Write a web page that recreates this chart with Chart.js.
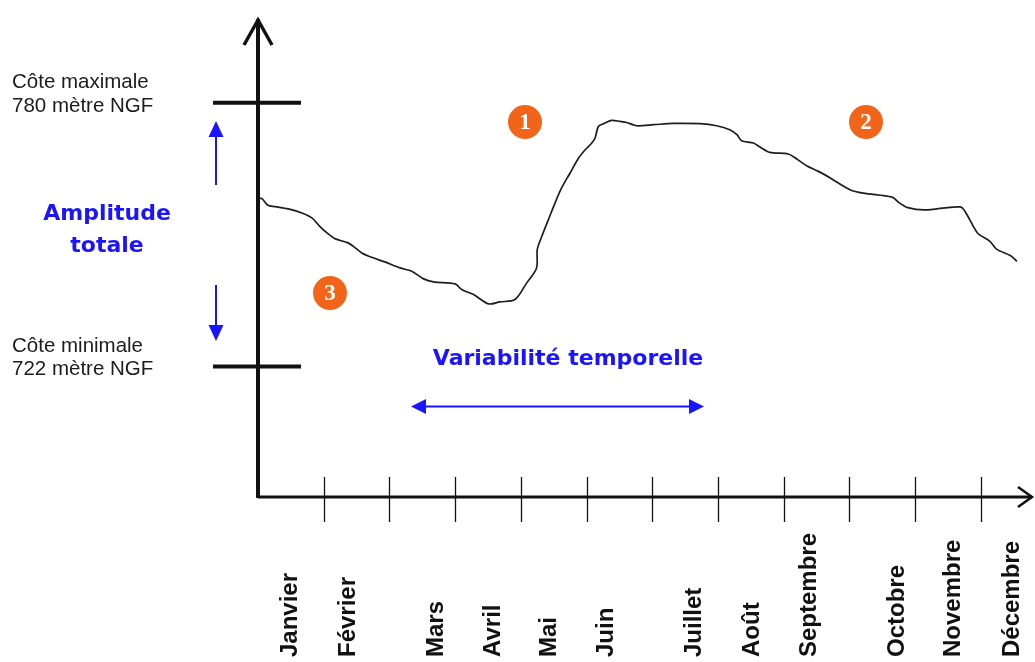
<!DOCTYPE html>
<html>
<head>
<meta charset="utf-8">
<script src="https://cdn.jsdelivr.net/npm/chart.js@4"></script>
<style>
  body { margin: 0; background: #fff; }
  #wrap { width: 1035px; height: 662px; position: relative; }
</style>
</head>
<body>
<div id="wrap"><canvas id="c"></canvas></div>
<script>
// Cote du plan d'eau sur l'annee (schema) - x en mois depuis le 1er janvier, y en metres NGF

var months = ['Janvier', 'Février', 'Mars', 'Avril', 'Mai', 'Juin',
  'Juillet', 'Août', 'Septembre', 'Octobre', 'Novembre', 'Décembre'];
// where each month name sits along the time axis
var monthLabelAt = [0.47, 1.34, 2.69, 3.56, 4.41, 5.28, 6.62, 7.49, 8.36, 9.70, 10.56, 11.45];
var monthTicks = [1, 2, 3, 4, 5, 6, 7, 8, 9, 10, 11];

var coteMax = 780;
var coteMin = 722;

var levelX = [0.00, 0.06, 0.15, 0.26, 0.46, 0.67, 0.82, 0.94, 1.05, 1.17,
  1.37, 1.45, 1.58, 1.73, 1.93, 2.16, 2.34, 2.52, 2.67, 3.00,
  3.10, 3.28, 3.51, 3.68, 3.91, 4.09, 4.24, 4.25, 4.32, 4.42,
  4.50, 4.62, 4.75, 4.88, 4.98, 5.08, 5.13, 5.18, 5.26, 5.38,
  5.51, 5.61, 5.76, 6.02, 6.32, 6.73, 6.98, 7.18, 7.29, 7.36,
  7.54, 7.64, 7.79, 8.07, 8.20, 8.35, 8.53, 8.71, 9.01, 9.21,
  9.65, 9.75, 9.89, 10.15, 10.69, 10.79, 10.95, 11.14, 11.24, 11.45,
  11.55];
var levelY = [759.06, 758.91, 757.44, 757.15, 756.65, 755.77, 754.67, 752.82, 751.37, 750.12,
  749.18, 748.43, 746.98, 746.01, 745.00, 743.68, 742.94, 741.27, 740.61, 740.17,
  738.92, 737.82, 735.77, 736.21, 736.72, 740.39, 743.68, 747.70, 750.63, 754.29,
  757.22, 761.26, 764.56, 767.85, 769.67, 771.15, 772.24, 774.79, 775.39, 776.11,
  775.89, 775.67, 774.95, 775.17, 775.45, 775.39, 774.95, 774.07, 772.97, 771.65,
  771.15, 770.27, 769.08, 768.73, 767.63, 766.16, 764.91, 763.46, 760.89, 760.12,
  759.24, 758.10, 756.93, 756.43, 757.09, 755.39, 751.37, 749.53, 747.81, 746.39,
  745.13];

var points = levelX.map(function(x, i) { return { x: x, y: levelY[i] }; });

var BLUE = '#1a14ff';
var ORANGE = '#f26419';
var INK = '#111';

function arrowHead(ctx, tipX, tipY, dx, dy, len, half) {
  // filled triangle pointing in direction (dx,dy)
  ctx.beginPath();
  ctx.moveTo(tipX, tipY);
  ctx.lineTo(tipX - dx * len - dy * half, tipY - dy * len + dx * half);
  ctx.lineTo(tipX - dx * len + dy * half, tipY - dy * len - dx * half);
  ctx.closePath();
  ctx.fill();
}

function badge(ctx, x, y, txt) {
  ctx.fillStyle = ORANGE;
  ctx.beginPath();
  ctx.arc(x, y, 17, 0, Math.PI * 2);
  ctx.fill();
  ctx.fillStyle = '#fff';
  ctx.font = 'bold 23px "Liberation Serif"';
  ctx.textAlign = 'center';
  ctx.textBaseline = 'middle';
  ctx.fillText(txt, x, y + 1);
}

var schema = {
  id: 'schema',
  afterDraw: function(chart) {
    var ctx = chart.ctx;
    var xs = chart.scales.x, ys = chart.scales.y;
    var x0 = xs.getPixelForValue(0);
    var yBase = ys.getPixelForValue(ys.min);
    var top = chart.chartArea.top;
    var right = chart.chartArea.right;
    ctx.save();
    ctx.strokeStyle = INK;
    ctx.lineCap = 'butt';

    // y axis + open arrow
    ctx.lineWidth = 4;
    ctx.beginPath();
    ctx.moveTo(x0, yBase + 1);
    ctx.lineTo(x0, top - 1);
    ctx.stroke();
    ctx.lineWidth = 3.5;
    ctx.lineJoin = 'miter';
    ctx.beginPath();
    ctx.moveTo(x0 - 14, top + 25);
    ctx.lineTo(x0, top);
    ctx.lineTo(x0 + 14, top + 25);
    ctx.stroke();

    // x axis + open arrow
    ctx.lineWidth = 3;
    ctx.beginPath();
    ctx.moveTo(x0, yBase);
    ctx.lineTo(right, yBase);
    ctx.stroke();
    ctx.lineWidth = 2.5;
    ctx.beginPath();
    ctx.moveTo(right - 14, yBase - 10);
    ctx.lineTo(right, yBase);
    ctx.lineTo(right - 14, yBase + 10);
    ctx.stroke();

    // month ticks
    ctx.lineWidth = 1.3;
    monthTicks.forEach(function(m) {
      var px = Math.round(xs.getPixelForValue(m)) + 0.5;
      ctx.beginPath();
      ctx.moveTo(px, yBase - 20);
      ctx.lineTo(px, yBase + 25);
      ctx.stroke();
    });

    // month names, vertical, all starting from the same bottom line
    ctx.fillStyle = INK;
    ctx.font = 'bold 24px "Liberation Sans"';
    ctx.textAlign = 'left';
    ctx.textBaseline = 'alphabetic';
    months.forEach(function(name, i) {
      var px = xs.getPixelForValue(monthLabelAt[i]);
      ctx.save();
      ctx.translate(px + 8.5, 657);
      ctx.rotate(-Math.PI / 2);
      ctx.fillText(name, 0, 0);
      ctx.restore();
    });

    // cote max / min bars
    ctx.lineWidth = 4;
    [coteMax, coteMin].forEach(function(v) {
      var py = ys.getPixelForValue(v);
      ctx.beginPath();
      ctx.moveTo(213, py);
      ctx.lineTo(301, py);
      ctx.stroke();
    });

    ctx.fillStyle = '#1c1c1c';
    ctx.font = '20.5px "Liberation Sans"';
    ctx.textAlign = 'left';
    ctx.fillText('Côte maximale', 12, 88);
    ctx.fillText(coteMax + ' mètre NGF', 12, 112);
    ctx.fillText('Côte minimale', 12, 352);
    ctx.fillText(coteMin + ' mètre NGF', 12, 375);

    // amplitude arrows
    ctx.strokeStyle = BLUE;
    ctx.fillStyle = BLUE;
    ctx.lineWidth = 2;
    ctx.beginPath();
    ctx.moveTo(216, 185); ctx.lineTo(216, 134);
    ctx.moveTo(216, 285); ctx.lineTo(216, 326);
    ctx.stroke();
    arrowHead(ctx, 216, 121, 0, -1, 16, 7.5);
    arrowHead(ctx, 216, 341, 0, 1, 16, 7.5);

    ctx.font = 'bold 22px "DejaVu Sans"';
    ctx.textAlign = 'center';
    ctx.fillText('Amplitude', 107, 220);
    ctx.fillText('totale', 107, 252);

    // temporal variability
    ctx.fillText('Variabilité temporelle', 568, 365);
    ctx.beginPath();
    ctx.moveTo(424, 406.5); ctx.lineTo(691, 406.5);
    ctx.stroke();
    arrowHead(ctx, 411, 406.5, -1, 0, 15, 7.5);
    arrowHead(ctx, 704, 406.5, 1, 0, 15, 7.5);

    badge(ctx, 525, 122, '1');
    badge(ctx, 866, 122, '2');
    badge(ctx, 330, 293, '3');
    ctx.restore();
  }
};

new Chart(document.getElementById('c'), {
  type: 'line',
  data: {
    datasets: [{
      data: points,
      borderColor: '#1e1e1e',
      borderWidth: 1.7,
      pointRadius: 0,
      tension: 0.3,
      fill: false
    }]
  },
  options: {
    responsive: true,
    maintainAspectRatio: false,
    animation: false,
    layout: { padding: { left: 258, right: 3, top: 20, bottom: 165 } },
    plugins: { legend: { display: false }, tooltip: { enabled: false } },
    scales: {
      x: { type: 'linear', min: 0, max: 11.78, display: false },
      y: { min: 693.3, max: 798.2, display: false }
    }
  },
  plugins: [schema]
});
</script>
</body>
</html>
